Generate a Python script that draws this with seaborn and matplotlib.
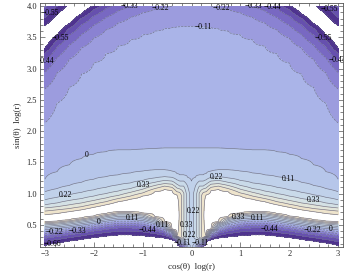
import numpy as np
import matplotlib
matplotlib.use("Agg")
import matplotlib.pyplot as plt
import seaborn as sns
from matplotlib.ticker import MultipleLocator

sns.set_theme(style="ticks")
plt.rcParams['font.family'] = ['Liberation Serif', 'DejaVu Serif']

# contour levels and fill colours (lowest band first)
levels = [-0.66, -0.55, -0.44, -0.33, -0.22, -0.11, 0.0, 0.11, 0.22, 0.33, 0.44, 0.55, 0.66]
band_colors = ['#4f338f', '#6650ae', '#7868c2', '#8a82d2', '#9c9cde', '#aab4e8',
               '#b6c6ea', '#c0d1ea', '#c9dae9', '#d4e1e5', '#e2e5da', '#eee4cc']

# outer rings (radius in the x-y plane, value)
ring_r = [3.68, 4.02, 4.2, 4.33, 4.42, 4.48, 4.6, 4.75, 4.9, 5.1]
ring_f = [-0.11, -0.22, -0.33, -0.44, -0.55, -0.66, -0.8, -0.66, -0.5, -0.35]

# steep band near the bottom: where each level sits between its lower and upper edge
band_frac = [0, 0.16, 0.30, 0.41, 0.50, 0.59, 0.66, 0.73, 0.80, 0.86, 0.91, 0.955, 1.0]

# columns right of the central spike (left half is the mirror image)
col_x    = [0.3, 0.4, 0.55, 0.75, 1.0, 1.25, 1.5, 1.75, 2.0, 2.25, 2.5, 2.75, 3.0]
band_lo  = [0.24, 0.27, 0.29, 0.31, 0.33, 0.34, 0.34, 0.32, 0.30, 0.27, 0.24, 0.21, 0.17]
band_hi  = [0.32, 0.43, 0.55, 0.63, 0.69, 0.71, 0.71, 0.68, 0.64, 0.61, 0.58, 0.56, 0.55]
ridge_hi = [0.98, 1.05, 1.07, 1.03, 0.96, 0.91, 0.87, 0.82, 0.78, 0.74, 0.71, 0.68, 0.66]
lvl_055  = [1.03, 1.10, 1.12, 1.08, 1.01, 0.96, 0.92, 0.87, 0.83, 0.79, 0.76, 0.74, 0.72]
lvl_044  = [1.09, 1.15, 1.16, 1.13, 1.07, 1.02, 0.97, 0.93, 0.89, 0.85, 0.82, 0.79, 0.77]
lvl_033  = [1.15, 1.20, 1.21, 1.18, 1.13, 1.08, 1.04, 1.00, 0.96, 0.92, 0.89, 0.85, 0.82]
lvl_022  = [1.22, 1.26, 1.27, 1.25, 1.21, 1.17, 1.14, 1.10, 1.06, 1.02, 0.98, 0.94, 0.90]
lvl_011  = [1.32, 1.36, 1.38, 1.38, 1.36, 1.33, 1.30, 1.27, 1.23, 1.18, 1.13, 1.08, 1.03]
lvl_000  = [1.73, 1.73, 1.73, 1.72, 1.71, 1.70, 1.70, 1.67, 1.63, 1.56, 1.46, 1.35, 1.23]

# central spike columns: x, heights, values
spike_x = [0.0, 0.08, 0.16, 0.24]
spike_y = [[0.15, 1.0, 1.2, 1.73],
           [0.15, 0.3, 1.0, 1.12, 1.26, 1.73],
           [0.15, 0.3, 1.0, 1.12, 1.2, 1.3, 1.73],
           [0.15, 0.3, 0.97, 1.05, 1.12, 1.2, 1.3, 1.73]]
spike_f = [[0.15, 0.17, 0.11, 0.0],
           [0.0, 0.27, 0.27, 0.22, 0.11, 0.0],
           [-0.4, 0.45, 0.45, 0.33, 0.22, 0.11, 0.0],
           [-0.7, 0.62, 0.62, 0.5, 0.33, 0.22, 0.11, 0.0]]

# where the contour labels sit in the reference
label_spots = [(-1.28, 4.0), (-0.64, 4.0), (0.62, 4.0), (1.15, 4.0), (1.67, 4.0),
               (0.25, 3.66), (-2.97, 3.1), (-2.7, 3.5), (-2.9, 3.9), (2.95, 3.1),
               (2.7, 3.5), (2.8, 3.95), (-2.14, 1.62), (2.0, 1.27), (-2.58, 0.93),
               (-1.0, 1.17), (2.5, 0.87), (0.5, 1.27),
               (-2.8, 0.38), (-2.85, 0.22), (-2.33, 0.40), (-1.9, 0.54),
               (-1.22, 0.61), (-0.9, 0.43), (-0.6, 0.50),
               (0.95, 0.63), (1.34, 0.61), (1.6, 0.445), (2.47, 0.41), (2.85, 0.43),
               (0.07, 0.72), (-0.1, 0.5),
               (-0.18, 0.2), (0.18, 0.2), (0.0, 0.33)]

y_grid = np.linspace(0.15, 4.0, 500)


def column(x, ys, fs):
    ry = np.sqrt(np.array(ring_r) ** 2 - x ** 2)
    return np.interp(y_grid, list(ys) + list(ry), list(fs) + ring_f)


xs_right, cols_right = [], []
for x, ys, fs in zip(spike_x, spike_y, spike_f):
    xs_right.append(x)
    cols_right.append(column(x, ys, fs))

upper_f = [0.8, 0.66, 0.55, 0.44, 0.33, 0.22, 0.11, 0.0]
for i, x in enumerate(col_x):
    lo, hi = band_lo[i], band_hi[i]
    ys = [0.15] + [lo + t * (hi - lo) for t in band_frac]
    ys += [(hi + ridge_hi[i]) / 2, ridge_hi[i], lvl_055[i], lvl_044[i],
           lvl_033[i], lvl_022[i], lvl_011[i], lvl_000[i]]
    fs = [-0.8] + levels + upper_f
    xs_right.append(x)
    cols_right.append(column(x, ys, fs))

xs = np.concatenate([-np.array(xs_right[:0:-1]), xs_right])
Z = np.column_stack(cols_right[:0:-1] + cols_right)

fig = plt.figure(figsize=(3.46, 2.77), dpi=100)
ax = fig.add_axes([40 / 346, 30 / 277, 303 / 346, 244 / 277])

ax.contourf(xs, y_grid, Z, levels=levels, colors=band_colors)
cs = ax.contour(xs, y_grid, Z, levels=levels, colors='#6f6f86', linewidths=0.45)


def fmt(v):
    if abs(v) < 1e-9:
        return "0"
    return f"{v:.2f}".replace("-", "\u2212")


labels = ax.clabel(cs, fmt=fmt, fontsize=5.5, inline=False, colors='black',
                   manual=label_spots)
for t in labels:
    t.set_rotation(0)

ax.set_xlim(-3.1, 3.1)
ax.set_ylim(0.145, 4.05)
ax.xaxis.set_major_locator(MultipleLocator(1))
ax.xaxis.set_minor_locator(MultipleLocator(0.2))
ax.yaxis.set_major_locator(MultipleLocator(0.5))
ax.yaxis.set_minor_locator(MultipleLocator(0.1))
ax.yaxis.set_major_formatter(plt.FuncFormatter(lambda v, p: f"{v:.1f}"))
ax.tick_params(which='both', direction='in', top=True, right=True,
               labelsize=6, color='#555555', width=0.5, pad=2)
ax.tick_params(which='major', length=3.5)
ax.tick_params(which='minor', length=2)
for s in ax.spines.values():
    s.set_linewidth(0.6)
    s.set_color('#555555')

ax.set_xlabel("cos(\u03b8)  log(r)", fontsize=6.5, labelpad=4)
ax.set_ylabel("sin(\u03b8)  log(r)", fontsize=6.5, labelpad=3)

fig.savefig("out.png", dpi=100)
